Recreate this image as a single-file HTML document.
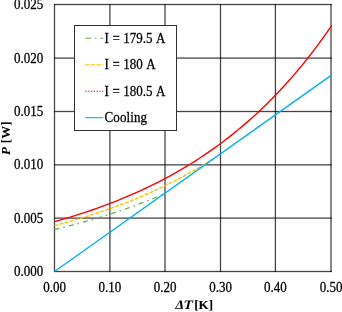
<!DOCTYPE html>
<html><head><meta charset="utf-8"><style>
html,body{margin:0;padding:0;background:#fff;}
svg{display:block;will-change:transform;}
text{-webkit-font-smoothing:antialiased;font-family:"Liberation Serif",serif;font-size:13px;fill:#000;stroke:#000;stroke-width:0.25px;}
.lg{word-spacing:0.75px;}
.b{font-weight:bold;stroke-width:0.05px;}
</style></head><body>
<svg width="342" height="312" viewBox="0 0 342 312">
<rect width="342" height="312" fill="#fff"/>
<g>
<rect x="54" y="270" width="278" height="1" fill="#000" fill-opacity="0.102"/>
<rect x="54" y="271" width="278" height="1" fill="#000" fill-opacity="0.730"/>
<rect x="54" y="272" width="278" height="1" fill="#000" fill-opacity="0.102"/>
<rect x="54" y="217" width="278" height="1" fill="#000" fill-opacity="0.394"/>
<rect x="54" y="218" width="278" height="1" fill="#000" fill-opacity="0.540"/>
<rect x="54" y="164" width="278" height="1" fill="#000" fill-opacity="0.577"/>
<rect x="54" y="165" width="278" height="1" fill="#000" fill-opacity="0.358"/>
<rect x="54" y="110" width="278" height="1" fill="#000" fill-opacity="0.102"/>
<rect x="54" y="111" width="278" height="1" fill="#000" fill-opacity="0.730"/>
<rect x="54" y="112" width="278" height="1" fill="#000" fill-opacity="0.102"/>
<rect x="54" y="57" width="278" height="1" fill="#000" fill-opacity="0.394"/>
<rect x="54" y="58" width="278" height="1" fill="#000" fill-opacity="0.540"/>
<rect x="54" y="3" width="278" height="1" fill="#000" fill-opacity="0.102"/>
<rect x="54" y="4" width="278" height="1" fill="#000" fill-opacity="0.730"/>
<rect x="54" y="5" width="278" height="1" fill="#000" fill-opacity="0.102"/>
<rect x="53" y="4" width="1" height="268" fill="#000" fill-opacity="0.102"/>
<rect x="54" y="4" width="1" height="268" fill="#000" fill-opacity="0.730"/>
<rect x="55" y="4" width="1" height="268" fill="#000" fill-opacity="0.102"/>
<rect x="109" y="4" width="1" height="268" fill="#000" fill-opacity="0.540"/>
<rect x="110" y="4" width="1" height="268" fill="#000" fill-opacity="0.394"/>
<rect x="164" y="4" width="1" height="268" fill="#000" fill-opacity="0.467"/>
<rect x="165" y="4" width="1" height="268" fill="#000" fill-opacity="0.467"/>
<rect x="219" y="4" width="1" height="268" fill="#000" fill-opacity="0.102"/>
<rect x="220" y="4" width="1" height="268" fill="#000" fill-opacity="0.730"/>
<rect x="221" y="4" width="1" height="268" fill="#000" fill-opacity="0.102"/>
<rect x="274" y="4" width="1" height="268" fill="#000" fill-opacity="0.175"/>
<rect x="275" y="4" width="1" height="268" fill="#000" fill-opacity="0.730"/>
<rect x="276" y="4" width="1" height="268" fill="#000" fill-opacity="0.029"/>
<rect x="330" y="4" width="1" height="268" fill="#000" fill-opacity="0.467"/>
<rect x="331" y="4" width="1" height="268" fill="#000" fill-opacity="0.467"/>
</g>
<g fill="none" stroke-width="1.4" stroke-linejoin="round">
<path d="M54.50,229.49 L56.38,229.05 L58.27,228.60 L60.15,228.14 L62.04,227.68 L63.92,227.21 L65.81,226.74 L67.69,226.26 L69.58,225.78 L71.46,225.30 L73.34,224.81 L75.23,224.31 L77.11,223.81 L79.00,223.30 L80.88,222.79 L82.77,222.27 L84.65,221.75 L86.54,221.22 L88.42,220.69 L90.30,220.15 L92.19,219.60 L94.07,219.05 L95.96,218.50 L97.84,217.93 L99.73,217.37 L101.61,216.79 L103.49,216.21 L105.38,215.62 L107.26,215.03 L109.15,214.43 L111.03,213.83 L112.92,213.21 L114.80,212.60 L116.69,211.97 L118.57,211.34 L120.45,210.70 L122.34,210.06 L124.22,209.41 L126.11,208.75 L127.99,208.08 L129.88,207.41 L131.76,206.73 L133.65,206.05 L135.53,205.35 L137.41,204.65 L139.30,203.95 L141.18,203.23 L143.07,202.51 L144.95,201.78 L146.84,201.04 L148.72,200.29 L150.61,199.54 L152.49,198.78 L154.37,198.01 L156.26,197.23 L158.14,196.44 L160.03,195.65 L161.91,194.84 L163.80,194.03 L165.68,193.21" stroke="#70AD47" stroke-width="1.3" stroke-dasharray="5 4.1 1.47 4.1"/>
<path d="M54.50,225.60 L57.18,224.90 L59.86,224.19 L62.53,223.46 L65.21,222.73 L67.89,221.99 L70.57,221.23 L73.24,220.46 L75.92,219.68 L78.60,218.89 L81.28,218.09 L83.96,217.27 L86.63,216.45 L89.31,215.61 L91.99,214.75 L94.67,213.89 L97.35,213.01 L100.02,212.11 L102.70,211.21 L105.38,210.29 L108.06,209.35 L110.73,208.41 L113.41,207.44 L116.09,206.46 L118.77,205.47 L121.45,204.46 L124.12,203.44 L126.80,202.40 L129.48,201.35 L132.16,200.28 L134.83,199.19 L137.51,198.08 L140.19,196.96 L142.87,195.83 L145.55,194.67 L148.22,193.50 L150.90,192.31 L153.58,191.10 L156.26,189.87 L158.94,188.63 L161.61,187.36 L164.29,186.08 L166.97,184.77 L169.65,183.45 L172.32,182.10 L175.00,180.74 L177.68,179.36 L180.36,177.95 L183.04,176.52 L185.71,175.07 L188.39,173.60 L191.07,172.10 L193.75,170.59 L196.43,169.05 L199.10,167.48 L201.78,165.90 L204.46,164.28 L207.14,162.65 L209.81,160.99 L212.49,159.30" stroke="#FFC000" stroke-dasharray="3.9 1.4"/>
<path d="M54.50,221.62 L59.20,220.30 L63.90,218.95 L68.60,217.55 L73.30,216.12 L78.00,214.65 L82.70,213.14 L87.40,211.58 L92.10,209.98 L96.80,208.34 L101.50,206.65 L106.21,204.91 L110.91,203.13 L115.61,201.29 L120.31,199.40 L125.01,197.46 L129.71,195.47 L134.41,193.42 L139.11,191.31 L143.81,189.14 L148.51,186.91 L153.21,184.62 L157.91,182.26 L162.61,179.83 L167.31,177.34 L172.01,174.77 L176.71,172.13 L181.41,169.42 L186.11,166.63 L190.81,163.75 L195.51,160.80 L200.22,157.76 L204.92,154.64 L209.62,151.42 L214.32,148.11 L219.02,144.71 L223.72,141.20 L228.42,137.60 L233.12,133.89 L237.82,130.08 L242.52,126.15 L247.22,122.11 L251.92,117.95 L256.62,113.67 L261.32,109.27 L266.02,104.74 L270.72,100.07 L275.42,95.27 L280.12,90.33 L284.82,85.24 L289.52,80.01 L294.23,74.61 L298.93,69.07 L303.63,63.35 L308.33,57.47 L313.03,51.42 L317.73,45.18 L322.43,38.76 L327.13,32.15 L331.83,25.35" stroke="#FF0000"/>
<path d="M54.50,271.50 L331.83,74.93" stroke="#00B0F0"/>
</g>
<rect x="74.5" y="25.5" width="102" height="105" fill="#fff" stroke="#303030" stroke-width="1"/>
<line x1="85.3" y1="38.2" x2="103.3" y2="38.2" stroke="#70AD47" stroke-width="1.1" stroke-dasharray="6 3.75 1.4 3.75"/>
<line x1="85.3" y1="64.7" x2="103.3" y2="64.7" stroke="#FFC000" stroke-width="1.1" stroke-dasharray="4.2 1.4"/>
<line x1="85.3" y1="91.2" x2="103.3" y2="91.2" stroke="#FF0000" stroke-width="1.1" stroke-dasharray="1.4 1.4"/>
<line x1="85.3" y1="117.7" x2="103.3" y2="117.7" stroke="#00B0F0" stroke-width="1.1"/>
<text transform="translate(104.50,42.70) scale(1,1.05)">I</text>
<text transform="translate(112.38,42.70) scale(1,1.05)">=</text>
<text transform="translate(123.26,42.70) scale(1,1.05)">179.5</text>
<text transform="translate(156.06,42.70) scale(1,1.05)">A</text>
<text transform="translate(104.50,69.20) scale(1,1.05)">I</text>
<text transform="translate(112.38,69.20) scale(1,1.05)">=</text>
<text transform="translate(123.26,69.20) scale(1,1.05)">180</text>
<text transform="translate(146.31,69.20) scale(1,1.05)">A</text>
<text transform="translate(104.50,95.70) scale(1,1.05)">I</text>
<text transform="translate(112.38,95.70) scale(1,1.05)">=</text>
<text transform="translate(123.26,95.70) scale(1,1.05)">180.5</text>
<text transform="translate(156.06,95.70) scale(1,1.05)">A</text>
<text transform="translate(104.50,122.20) scale(1,1.05)" letter-spacing="0.12">Cooling</text>
<text transform="translate(43.2,275.90) scale(1,1.07)" text-anchor="end">0.000</text>
<text transform="translate(43.2,222.50) scale(1,1.07)" text-anchor="end">0.005</text>
<text transform="translate(43.2,169.25) scale(1,1.07)" text-anchor="end">0.010</text>
<text transform="translate(43.2,115.90) scale(1,1.07)" text-anchor="end">0.015</text>
<text transform="translate(43.2,62.50) scale(1,1.07)" text-anchor="end">0.020</text>
<text transform="translate(43.2,8.90) scale(1,1.07)" text-anchor="end">0.025</text>
<text transform="translate(54.50,291.9) scale(1,1.07)" text-anchor="middle">0.00</text>
<text transform="translate(109.90,291.9) scale(1,1.07)" text-anchor="middle">0.10</text>
<text transform="translate(165.00,291.9) scale(1,1.07)" text-anchor="middle">0.20</text>
<text transform="translate(220.50,291.9) scale(1,1.07)" text-anchor="middle">0.30</text>
<text transform="translate(275.40,291.9) scale(1,1.07)" text-anchor="middle">0.40</text>
<text transform="translate(331.00,291.9) scale(1,1.07)" text-anchor="middle">0.50</text>
<text class="b" transform="translate(10.2,138.3) rotate(-90)" text-anchor="middle" word-spacing="0.75"><tspan font-style="italic">P</tspan> [W]</text>
<text class="b" transform="translate(174.8,309.2) skewX(-13)">&#916;T</text>
<text class="b" transform="translate(194.2,309.2)">[K]</text>
</svg>
</body></html>
